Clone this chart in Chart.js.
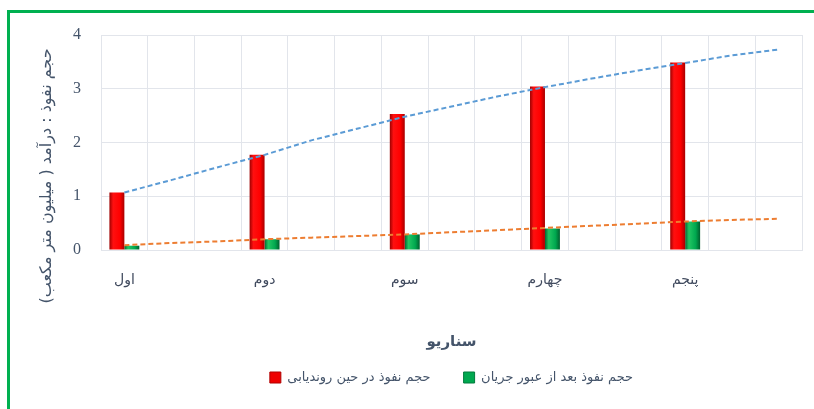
<!DOCTYPE html>
<html>
<head>
<meta charset="utf-8">
<script src="https://cdn.jsdelivr.net/npm/chart.js@4"></script>
<style>
  html, body { margin: 0; padding: 0; background: #fff; overflow: hidden; }
  #wrap { position: relative; width: 814px; height: 409px; }
  #frame { position: absolute; left: 7px; top: 10px; width: 900px; height: 500px; border: 3px solid #00b050; }
  #chart { position: absolute; left: 0; top: 0; }
</style>
</head>
<body>
<div id="wrap">
  <div id="frame"></div>
  <canvas id="chart" width="814" height="409"></canvas>
</div>
<script>
// scenarios (each one sits on the first of three slots)
const scenarios = ['اول', 'دوم', 'سوم', 'چهارم', 'پنجم']
const slotsPerScenario = 3

// bars
const duringRouting = [1.07, 1.77, 2.53, 3.04, 3.49]
const afterFlow = [0.08, 0.20, 0.29, 0.40, 0.53]

// trend lines, one value per slot
const trendDuring = [1.07, 1.30, 1.54, 1.77, 2.04, 2.26, 2.48, 2.67, 2.86, 3.03, 3.19, 3.34, 3.48, 3.62, 3.73]
const trendAfter = [0.09, 0.13, 0.16, 0.20, 0.23, 0.26, 0.29, 0.33, 0.37, 0.41, 0.45, 0.49, 0.53, 0.56, 0.58]

const yTicks = [0, 1, 2, 3, 4]

const legendLabels = ['حجم نفوذ در حین روندیابی', 'حجم نفوذ بعد از عبور جریان']
const xTitle = 'سناریو'
const yTitle = 'حجم نفوذ : درآمد ( میلیون متر مکعب)'

const textColor = '#44546a'
const gridColor = '#e2e5eb'

// build the slot labels and sparse bar data
let slotLabels = []
let redData = []
let greenData = []
scenarios.forEach((name, i) => {
    for (let s = 0; s < slotsPerScenario; s++) {
        slotLabels.push(s == 0 ? name : '')
        redData.push(s == 0 ? duringRouting[i] : null)
        greenData.push(s == 0 ? afterFlow[i] : null)
    }
})

// shaded bar faces, set once the bars have positions
const barShade = {
    id: 'barShade',
    beforeDatasetsDraw(chart) {
        const ctx = chart.ctx
        const tones = {
            0: ['#9e0000', '#ff1010', '#ff0000', '#a80000'],
            1: ['#006a33', '#22c663', '#00a84f', '#005f2d']
        }
        for (const di of [0, 1]) {
            const meta = chart.getDatasetMeta(di)
            meta.data.forEach(bar => {
                if (!bar || bar.skip || bar.width == null || isNaN(bar.x)) return
                const x0 = bar.x - bar.width / 2
                const g = ctx.createLinearGradient(x0, 0, x0 + bar.width, 0)
                const c = tones[di]
                g.addColorStop(0, c[0])
                g.addColorStop(0.25, c[1])
                g.addColorStop(0.7, c[2])
                g.addColorStop(1, c[3])
                bar.options.backgroundColor = g
            })
        }
    }
}

// legend sits centred under the plot, a bit higher than the default
const legendPlace = {
    id: 'legendPlace',
    afterLayout(chart) {
        const lg = chart.legend
        const area = chart.chartArea
        const shiftX = (area.left + area.right) / 2 - (lg.left + lg.right) / 2
        lg.left += shiftX
        lg.right += shiftX
        const pad = lg.options.labels.padding
        const top = 378 - pad - 7
        lg.bottom += top - lg.top
        lg.top = top
    }
}

// rotated y title, placed like the original
const yTitlePlugin = {
    id: 'yTitlePlugin',
    afterDraw(chart) {
        const ctx = chart.ctx
        ctx.save()
        ctx.translate(47, 176)
        ctx.rotate(-Math.PI / 2)
        ctx.direction = 'rtl'
        ctx.textAlign = 'center'
        ctx.textBaseline = 'middle'
        ctx.fillStyle = textColor
        ctx.font = '16px "DejaVu Sans"'
        ctx.fillText(yTitle, 0, 0)
        ctx.restore()
    }
}

const data = {
    labels: slotLabels,
    datasets: [{
        type: 'bar',
        label: legendLabels[0],
        data: redData,
        backgroundColor: () => '#ff0000',
        borderWidth: 0,
        categoryPercentage: 0.64,
        barPercentage: 1.0,
        order: 2
    },
    {
        type: 'bar',
        label: legendLabels[1],
        data: greenData,
        backgroundColor: () => '#00b050',
        borderWidth: 0,
        categoryPercentage: 0.64,
        barPercentage: 1.0,
        order: 2
    },
    {
        type: 'line',
        label: 'trend1',
        data: trendDuring,
        borderColor: '#5b9bd5',
        borderWidth: 2,
        borderDash: [5, 3],
        pointRadius: 0,
        fill: false,
        order: 1
    },
    {
        type: 'line',
        label: 'trend2',
        data: trendAfter,
        borderColor: '#ed7d31',
        borderWidth: 2,
        borderDash: [5, 3],
        pointRadius: 0,
        fill: false,
        order: 1
    }]
}

const config = {
    type: 'bar',
    data,
    plugins: [barShade, legendPlace, yTitlePlugin],
    options: {
        responsive: false,
        animation: false,
        layout: { padding: { left: 0, right: 12, top: 35, bottom: 0 } },
        plugins: {
            tooltip: { enabled: false },
            legend: {
                position: 'bottom',
                labels: {
                    boxWidth: 11,
                    boxHeight: 11,
                    padding: 33,
                    color: textColor,
                    font: { family: 'DejaVu Sans', size: 13 },
                    generateLabels: chart => {
                        const fills = ['#ee0000', '#00a84f']
                        const edges = ['#b00000', '#007a3d']
                        return [0, 1].map(i => ({
                            text: legendLabels[i],
                            fillStyle: fills[i],
                            strokeStyle: edges[i],
                            lineWidth: 1,
                            fontColor: textColor,
                            datasetIndex: i
                        }))
                    }
                }
            }
        },
        scales: {
            x: {
                grid: { color: gridColor, offset: true, drawTicks: false },
                border: { color: gridColor },
                ticks: {
                    autoSkip: false,
                    maxRotation: 0,
                    padding: 22,
                    color: '#404a5e',
                    font: { family: 'DejaVu Sans', size: 14 }
                },
                title: {
                    display: true,
                    text: xTitle,
                    color: textColor,
                    font: { family: 'DejaVu Sans', size: 15, weight: 'bold' },
                    padding: { top: 30, bottom: 2 }
                },
                afterFit: scale => { scale.height = 103 }
            },
            y: {
                min: 0,
                max: 4,
                afterBuildTicks: scale => { scale.ticks = yTicks.map(v => ({ value: v })) },
                grid: { color: gridColor, drawTicks: false },
                border: { color: gridColor },
                ticks: {
                    padding: 20,
                    color: textColor,
                    font: { family: 'Liberation Serif', size: 16 }
                },
                afterFit: scale => { scale.width = 101 }
            }
        }
    }
}

const myChart = new Chart(document.getElementById('chart'), config)
</script>
</body>
</html>
